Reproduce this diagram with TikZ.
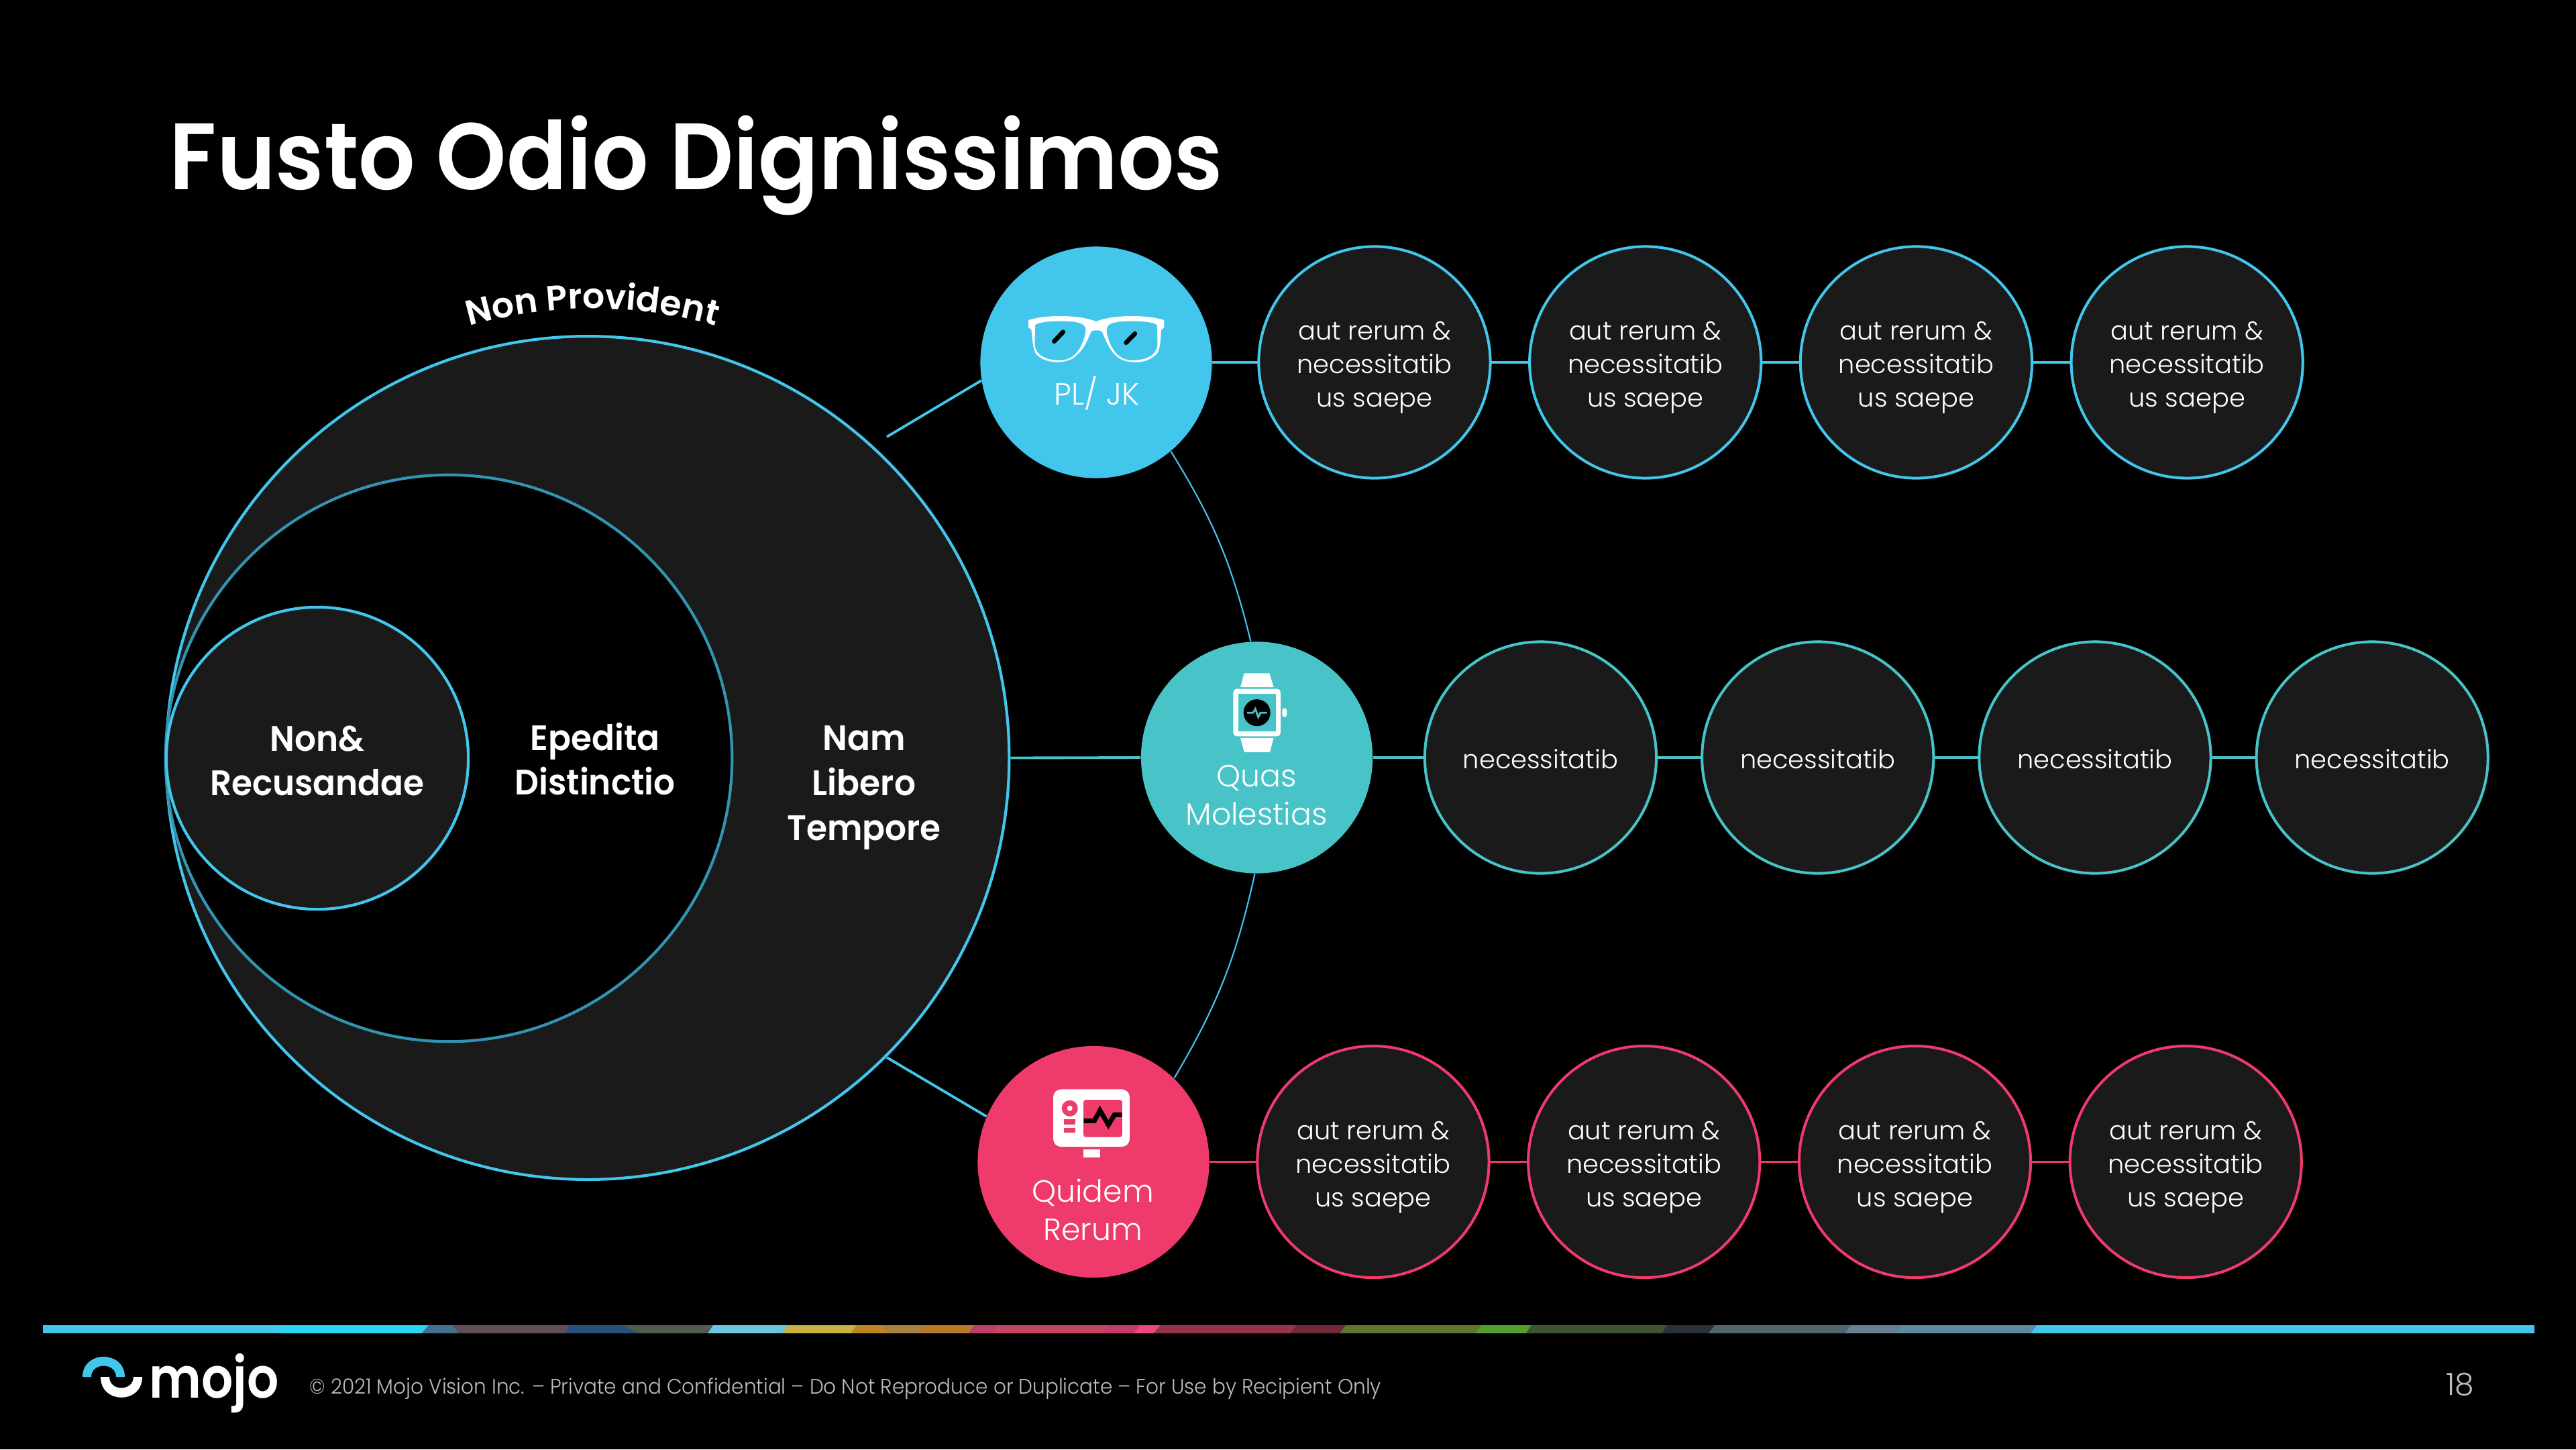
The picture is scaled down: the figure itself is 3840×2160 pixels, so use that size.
\documentclass[tikz,border=0pt]{standalone}
\usepackage{fontspec}
\setmainfont{Poppins}
\newfontfamily\bodyfont{Poppins Light}
\newfontfamily\headfont{Poppins SemiBold}
\newfontfamily\titlefont[FakeStretch=0.944]{Poppins SemiBold}
\newfontfamily\ringfont[FakeStretch=0.95]{Poppins SemiBold}
\newfontfamily\logofont[FakeStretch=0.88]{Poppins SemiBold}
\newfontfamily\legalfont[FakeStretch=0.943]{Poppins Light}
\usetikzlibrary{positioning,arrows.meta,decorations.text,calc}
\definecolor{skyline}{HTML}{43C6EC}
\definecolor{tealline}{HTML}{48C3C8}
\definecolor{roseline}{HTML}{EF3A6C}
\definecolor{discfill}{HTML}{1A1A1A}
\definecolor{footgray}{HTML}{BDBDBD}
\newcommand{\longtext}{\rule{0pt}{12.4pt}aut rerum \&\\necessitatib\\us saepe}
\newcommand{\shorttext}{\rule{0pt}{9.7pt}necessitatib}
\tikzset{
  x=0.01cm, y=-0.01cm,
  ring/.style={circle, inner sep=0pt, line width=1.2pt},
  hub/.style={circle, inner sep=0pt, minimum size=3.45cm},
  leaf/.style={circle, inner sep=0pt, outer sep=0pt, minimum size=3.45cm, line width=1.15pt, fill=discfill,
               text=white, align=center, font=\bodyfont\fontsize{10.9}{14.2}\selectfont},
  leafsky/.style={leaf, draw=skyline},
  leafteal/.style={leaf, draw=tealline},
  leafrose/.style={leaf, draw=roseline},
  hublabel/.style={text=white, align=center, inner sep=0pt, font=\bodyfont\fontsize{13}{16.2}\selectfont},
  ringlabel/.style={text=white, align=center, inner sep=0pt, font=\ringfont\fontsize{15}{19}\selectfont},
  link/.style={line width=1.1pt},
  hairline/.style={line width=0.6pt, draw=skyline}
}
\begin{document}
\begin{tikzpicture}
\useasboundingbox[fill=black] (0,0) rectangle (3840,2160);

\node[anchor=base west, inner sep=0pt, text=white, font=\titlefont\fontsize{40}{46}\selectfont] (title) at (252,282) {Fusto Odio Dignissimos};

% rings
\node[ring, draw=skyline, fill=discfill, minimum size=12.56cm] (outer) at (876,1129.5) {};
\node[ring, draw=skyline!75!black, fill=black, minimum size=8.44cm] (middle) at (669,1130) {};
\node[ring, draw=skyline, fill=discfill, minimum size=4.5cm] (inner) at (473,1130) {};
\node[ringlabel] (innerlabel) at (473,1134) {Non\&\\Recusandae};
\node[ringlabel] (middlelabel) at (887,1131) {Epedita\\Distinctio};
\node[ringlabel] (outerlabel) at (1288,1174) {Nam\\Libero\\Tempore};
\path[postaction={decorate}, decoration={text along path, text align=center,
    text={|\headfont\fontsize{14.8}{16}\selectfont\color{white}|Non Provident}}]
  (601,522.5) .. controls (779.7,439.2) and (986.3,439.2) .. (1165,522.5);

% hubs
\node[hub, fill=skyline] (plj) at (1634,540) {};
\node[hub, fill=tealline] (quas) at (1873.5,1129) {};
\node[hub, fill=roseline] (quid) at (1630,1731.5) {};
\node[hublabel, anchor=base] (pljlabel) at (1635,603) {PL/ JK};
\node[hublabel, anchor=base] (quaslabel) at (1873,1229) {Quas\\Molestias};
\node[hublabel, anchor=base] (quidlabel) at (1629,1848) {Quidem\\Rerum};

% top row
\node[leafsky, right=0.69cm of plj] (a1) {\longtext};
\node[leafsky, right=0.585cm of a1] (a2) {\longtext};
\node[leafsky, right=0.585cm of a2] (a3) {\longtext};
\node[leafsky, right=0.585cm of a3] (a4) {\longtext};
% middle row
\node[leafteal, right=0.77cm of quas] (b1) {\shorttext};
\node[leafteal, right=0.68cm of b1] (b2) {\shorttext};
\node[leafteal, right=0.68cm of b2] (b3) {\shorttext};
\node[leafteal, right=0.68cm of b3] (b4) {\shorttext};
% bottom row
\node[leafrose, right=0.71cm of quid] (c1) {\longtext};
\node[leafrose, right=0.585cm of c1] (c2) {\longtext};
\node[leafrose, right=0.585cm of c2] (c3) {\longtext};
\node[leafrose, right=0.585cm of c3] (c4) {\longtext};

\draw[link, draw=skyline] (plj) -- (a1);
\draw[link, draw=skyline] (a1) -- (a2);
\draw[link, draw=skyline] (a2) -- (a3);
\draw[link, draw=skyline] (a3) -- (a4);
\draw[link, draw=tealline] (outer.east) -- (quas.west);
\draw[link, draw=tealline] (quas) -- (b1);
\draw[link, draw=tealline] (b1) -- (b2);
\draw[link, draw=tealline] (b2) -- (b3);
\draw[link, draw=tealline] (b3) -- (b4);
\draw[link, draw=roseline] (quid) -- (c1);
\draw[link, draw=roseline] (c1) -- (c2);
\draw[link, draw=roseline] (c2) -- (c3);
\draw[link, draw=roseline] (c3) -- (c4);

\coordinate (upfoot) at (1322,651);
\coordinate (downfoot) at (1322,1576);
\draw[link, draw=skyline] (upfoot) -- (plj.189);
\draw[link, draw=skyline] (downfoot) -- (quid.157);
\draw[hairline] (plj.-50) to[bend left=9] (quas.93);
\draw[hairline] (quas.-91) to[bend left=9] (quid.46);

% glasses
\begin{scope}[shift={(1400,340)}, x=0.00333cm, y=-0.00333cm]
\fill[white, even odd rule]
  (400,412) .. controls (470,388) and (620,385) .. (703,418)
  .. controls (785,385) and (935,388) .. (1008,412) -- (1008,445) -- (995,455)
  .. controls (990,520) and (990,560) .. (960,575) .. controls (920,610) and (830,610) .. (790,570)
  .. controls (760,540) and (745,500) .. (730,465) .. controls (725,455) and (685,455) .. (680,465)
  .. controls (665,500) and (650,540) .. (615,570) .. controls (575,610) and (485,610) .. (440,570)
  .. controls (420,550) and (420,520) .. (413,455) -- (400,445) -- cycle
  (430,435) .. controls (440,415) and (580,410) .. (630,425) .. controls (660,435) and (660,455) .. (650,490)
  .. controls (630,560) and (590,592) .. (540,592) .. controls (480,592) and (430,570) .. (428,520) -- cycle
  (976,435) .. controls (966,415) and (826,410) .. (776,425) .. controls (746,435) and (746,455) .. (756,490)
  .. controls (776,560) and (816,592) .. (866,592) .. controls (926,592) and (976,570) .. (978,520) -- cycle;
\draw[black, line width=1.9pt, line cap=round] (515,507) -- (555,465);
\draw[black, line width=1.9pt, line cap=round] (837,513) -- (877,472);
\end{scope}

% watch
\begin{scope}[shift={(1650,940)}, x=0.00333cm, y=-0.00333cm]
\fill[white] (615,190) -- (728,190) -- (747,253) -- (598,253) -- cycle;
\fill[white] (598,480) -- (747,480) -- (730,544) -- (615,544) -- cycle;
\fill[white, rounded corners=1.5pt] (566,260) rectangle (778,473);
\fill[tealline] (588,282) rectangle (757,452);
\fill[black] (672,367) circle [radius=0.2cm];
\draw[tealline, line width=0.8pt] (628,367) -- (655,367) -- (665,350) -- (678,387) -- (688,367) -- (717,367);
\fill[white, rounded corners=1pt] (785,347) rectangle (806,387);
\end{scope}

% monitor
\begin{scope}[shift={(1400,1500)}, x=0.00333cm, y=-0.00333cm]
\fill[white, rounded corners=3.3pt] (511,371) rectangle (853,628);
\fill[roseline, rounded corners=1.1pt] (646,418) rectangle (820,585);
\draw[black, line width=2pt] (648,512) -- (695,512) -- (720,465) -- (758,530) -- (785,485) -- (818,485);
\fill[roseline] (585,456) circle [radius=0.12cm];
\fill[white] (585,456) circle [radius=0.04cm];
\fill[roseline] (560,505) rectangle (610,528);
\fill[roseline] (560,543) rectangle (610,566);
\fill[white] (645,640) rectangle (720,677);
\end{scope}

% footer bar
\fill[skyline] (64,1975) rectangle (425,1987);
\foreach \tx/\bx/\ex/\fx/\col in {
  421/415/639/629/29D4F5, 639/629/675/684/44708F, 675/684/850/842/614E58,
  850/842/927/953/27507A, 927/953/1063/1055/4E5E50, 1063/1055/1175/1166/69C8E0,
  1175/1166/1278/1269/C9B23F, 1278/1269/1317/1327/BF8524, 1317/1327/1378/1369/A88240,
  1378/1369/1453/1444/B87A26, 1453/1444/1485/1476/BD3E6E, 1485/1476/1654/1646/C4475F,
  1654/1646/1699/1689/C43A6A, 1699/1689/1730/1720/EA4880, 1730/1720/1933/1924/97344B,
  1933/1924/2006/1997/702A37, 2006/1997/2208/2199/5F7530, 2208/2199/2283/2275/52A02D,
  2283/2275/2486/2477/3D5434, 2486/2477/2556/2547/2C3138, 2556/2547/2759/2750/53666F,
  2759/2750/2834/2825/688090, 2834/2825/3036/3027/5B8CA4}{
  \definecolor{segcol}{HTML}{\col}
  \fill[segcol] (\tx,1975) -- (\ex,1975) -- (\fx,1987) -- (\bx,1987) -- cycle;
}
\fill[skyline] (3036,1975) -- (3778,1975) -- (3778,1987) -- (3027,1987) -- cycle;

% logo
\fill[skyline] (123,2052) .. controls (123,2012) and (186,2012) .. (186,2052) -- (173,2052)
  .. controls (173,2030) and (136,2030) .. (136,2052) -- cycle;
\fill[white] (150,2052) .. controls (150,2093) and (212,2093) .. (212,2052) -- (199,2052)
  .. controls (199,2074) and (163,2074) .. (163,2052) -- cycle;
\node[anchor=base west, inner sep=0pt, text=white, font=\logofont\fontsize{24}{30}\selectfont] (logotext) at (222,2083) {mojo};

\node[anchor=base west, inner sep=0pt, text=footgray, font=\legalfont\fontsize{8.9}{10}\selectfont] (legal) at (461,2077) {© 2021 Mojo Vision Inc. – Private and Confidential – Do Not Reproduce or Duplicate – For Use by Recipient Only};
\node[anchor=base, inner sep=0pt, text=footgray, font=\bodyfont\fontsize{13}{14}\selectfont] (pagenum) at (3667,2079) {18};
\end{tikzpicture}
\end{document}
